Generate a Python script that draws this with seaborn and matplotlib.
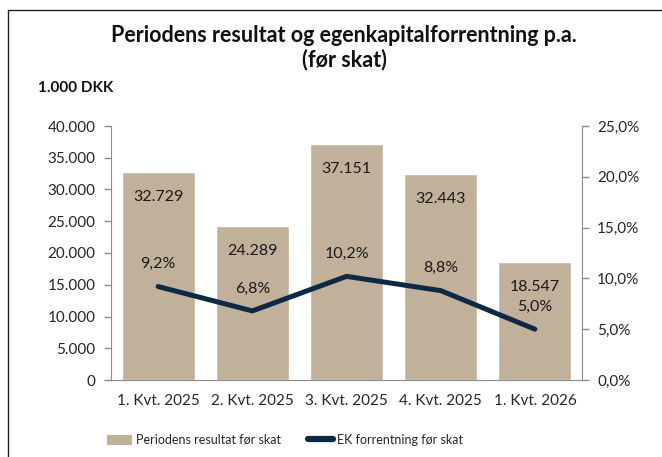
import numpy as np
import matplotlib
matplotlib.use("Agg")
import matplotlib.pyplot as plt
import seaborn as sns
from matplotlib.lines import Line2D
from matplotlib.patches import Patch
from matplotlib.ticker import FuncFormatter, MultipleLocator, FixedLocator

# data
quarters = ["1. Kvt. 2025", "2. Kvt. 2025", "3. Kvt. 2025", "4. Kvt. 2025", "1. Kvt. 2026"]
resultat = [32729, 24289, 37151, 32443, 18547]
ek_forrentning = [9.2, 6.8, 10.2, 8.8, 5.0]

bar_color = "#c1b09a"
line_color = "#0c2a44"
axis_color = "#8c8c8c"

sns.set_style("white")
plt.rcParams["font.family"] = ["Lato", "DejaVu Sans"]

fig = plt.figure(figsize=(6.62, 4.57), dpi=100)
ax = fig.add_axes([111 / 662, 1 - 380 / 457, 471 / 662, 254 / 457])

sns.barplot(x=quarters, y=resultat, color=bar_color, width=0.775, saturation=1, ax=ax)
ax.set_ylim(0, 40000)
ax.set_xlim(-0.5, len(quarters) - 0.5)
ax.yaxis.set_major_locator(MultipleLocator(5000))
ax.yaxis.set_major_formatter(FuncFormatter(lambda v, p: f"{v:,.0f}".replace(",", ".")))
ax.set_xlabel("")
ax.set_ylabel("")

ax2 = ax.twinx()
sns.lineplot(x=np.arange(len(quarters)), y=ek_forrentning, color=line_color, linewidth=3.6, ax=ax2)
ax2.lines[0].set_solid_capstyle("round")
ax2.set_ylim(0, 25)
ax2.yaxis.set_major_locator(MultipleLocator(5))
ax2.yaxis.set_major_formatter(FuncFormatter(lambda v, p: f"{v:.1f}%".replace(".", ",")))
ax2.set_xlim(-0.5, len(quarters) - 0.5)

for a in (ax, ax2):
    a.spines["top"].set_visible(False)
    for s in ("left", "right", "bottom"):
        a.spines[s].set_color(axis_color)
ax.spines["right"].set_visible(False)
ax2.spines["left"].set_visible(False)
ax2.spines["bottom"].set_visible(False)

ax.tick_params(axis="y", direction="out", length=5, width=1, color=axis_color, labelsize=11, pad=6, left=True)
ax2.tick_params(axis="y", direction="out", length=5, width=1, color=axis_color, labelsize=11, pad=6, right=True)
ax.tick_params(axis="x", length=0, labelsize=11, pad=10)
# category separators on the x axis
ax.xaxis.set_minor_locator(FixedLocator(np.arange(-0.5, len(quarters) + 0.5, 1)))
ax.tick_params(axis="x", which="minor", direction="out", length=5, width=1, color=axis_color)

for i, v in enumerate(resultat):
    ax.annotate(f"{v:,}".replace(",", "."), (i, v), xytext=(0, -18), textcoords="offset points",
                ha="center", va="center", fontsize=11.5, color="#1a1a1a")
for i, v in enumerate(ek_forrentning):
    ax2.annotate(f"{v:.1f}%".replace(".", ","), (i, v), xytext=(0, 16), textcoords="offset points",
                 ha="center", va="center", fontsize=11.5, color="#1a1a1a")

fig.text(0.52, 1 - 35 / 457, "Periodens resultat og egenkapitalforrentning p.a.", ha="center", va="center",
         fontsize=15.5, fontweight="bold", color="#111111")
fig.text(0.52, 1 - 60 / 457, "(før skat)", ha="center", va="center",
         fontsize=15.5, fontweight="bold", color="#111111")
fig.text(38 / 662, 1 - 88 / 457, "1.000 DKK", ha="left", va="center", fontsize=11, fontweight="bold", color="#111111")

handles = [Patch(facecolor=bar_color, edgecolor="none"),
           Line2D([0], [0], color=line_color, linewidth=4.5, solid_capstyle="round")]
fig.legend(handles, ["Periodens resultat før skat", "EK forrentning før skat"], loc="center",
           bbox_to_anchor=(285 / 662, 1 - 440 / 457), ncol=2, frameon=False, fontsize=9,
           handlelength=2.0, handleheight=0.9, handletextpad=0.3, columnspacing=2.2)

# outer frame (left and top edges visible)
fig.add_artist(Line2D([8 / 662, 8 / 662], [0, 1 - 10 / 457], color="#222222", linewidth=1, transform=fig.transFigure))
fig.add_artist(Line2D([8 / 662, 1], [1 - 10 / 457, 1 - 10 / 457], color="#222222", linewidth=1, transform=fig.transFigure))

fig.savefig("out.png", dpi=100)
